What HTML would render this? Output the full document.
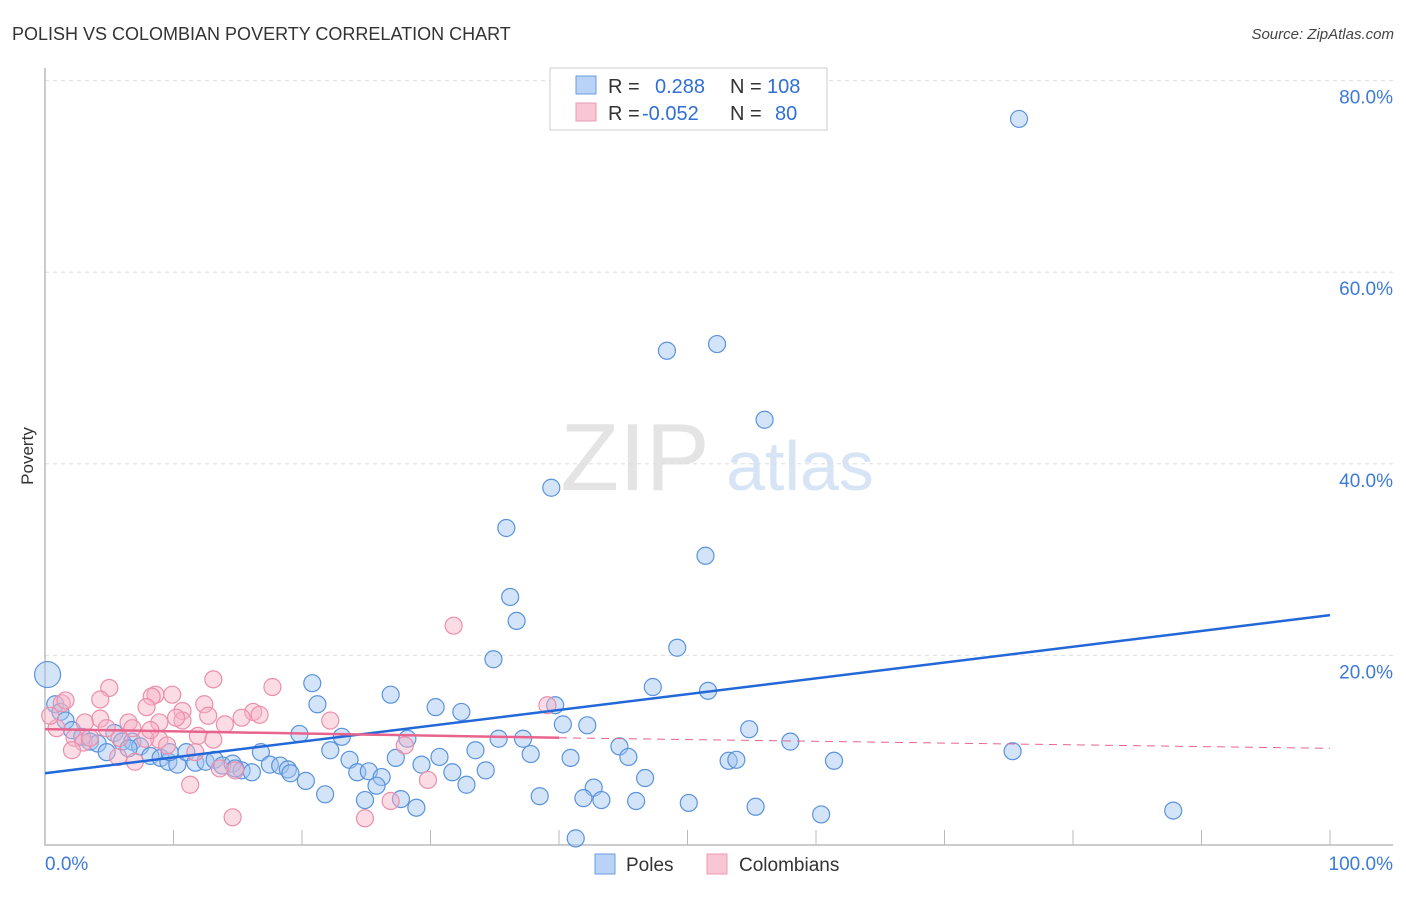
<!DOCTYPE html>
<html><head><meta charset="utf-8"><style>
body{margin:0;background:#fff;font-family:"Liberation Sans",sans-serif}
svg text{font-family:"Liberation Sans",sans-serif}
</style></head><body>
<svg id="chart" width="1406" height="892" xmlns="http://www.w3.org/2000/svg">
<text x="12" y="40" font-size="18" fill="#333">POLISH VS COLOMBIAN POVERTY CORRELATION CHART</text>
<text x="1394" y="39" font-size="15" fill="#444" font-style="italic" text-anchor="end">Source: ZipAtlas.com</text>
<text transform="translate(33,456) rotate(-90)" font-size="17" fill="#333" text-anchor="middle">Poverty</text>
<g><text x="635" y="490" font-size="96" fill="#e4e4e4" font-family="Liberation Serif" text-anchor="middle">ZIP</text><text x="800" y="490" font-size="70" fill="#d6e4f5" text-anchor="middle">atlas</text></g>
<g id="grid"></g>
<g id="axes"></g>
<g id="pts"></g>
<g id="lines"></g>
<g>
<rect x="550" y="68" width="277" height="62" fill="#fff" stroke="#ccc"/>
<rect x="576" y="76" width="20" height="18" fill="#b8d3f5" stroke="#6b9de0"/>
<rect x="576" y="103" width="20" height="18" fill="#f8c6d4" stroke="#ec9ab2"/>
<text x="608" y="93" font-size="20" fill="#333">R =</text><text x="655" y="93" font-size="20" fill="#2f6fd6">0.288</text>
<text x="730" y="93" font-size="20" fill="#333">N =</text><text x="767" y="93" font-size="20" fill="#2f6fd6">108</text>
<text x="608" y="120" font-size="20" fill="#333">R =</text><text x="642" y="120" font-size="20" fill="#2f6fd6">-0.052</text>
<text x="730" y="120" font-size="20" fill="#333">N =</text><text x="775" y="120" font-size="20" fill="#2f6fd6">80</text>
</g>
<g>
<rect x="595" y="854" width="20" height="20" fill="#b8d3f5" stroke="#6b9de0"/><text x="626" y="871" font-size="19" fill="#333">Poles</text>
<rect x="707" y="854" width="20" height="20" fill="#f8c6d4" stroke="#ec9ab2"/><text x="739" y="871" font-size="19" fill="#333">Colombians</text>
</g>
</svg>
<script>
const yTicks=[20,40,60,80];
const yTickLabels=["20.0%","40.0%","60.0%","80.0%"];
const xTickLabels=["0.0%","100.0%"];
const polesX=[75.8,48.4,52.3,56.0,39.4,35.9,51.4,36.2,36.7,34.9,49.2,20.8,47.3,51.6,26.9,21.2,30.4,32.4,39.7,54.8,40.3,42.2,19.8,23.1,28.2,35.3,37.2,44.7,58.0,22.2,33.5,16.8,30.7,37.8,40.9,45.4,75.3,53.2,53.8,61.4,23.7,27.3,29.3,31.7,34.3,24.3,25.2,26.2,32.8,20.3,46.7,25.8,42.7,21.8,24.9,27.7,38.5,41.9,43.3,46.0,50.1,55.3,28.9,60.4,87.8,41.3,0.2,0.8,1.2,1.6,2.1,2.9,3.5,4.1,4.8,5.4,6.0,6.8,7.4,8.2,9.0,9.6,10.3,11.0,11.7,12.5,13.2,13.8,14.6,15.3,16.1,17.5,18.3,18.9,19.1,9.7,14.8,6.5];
const polesY=[76.0,51.8,52.5,44.6,37.5,33.3,30.4,26.1,23.6,19.6,20.8,17.1,16.7,16.3,15.9,14.9,14.6,14.1,14.8,12.3,12.8,12.7,11.8,11.5,11.3,11.3,11.3,10.5,11.0,10.1,10.1,9.9,9.4,9.7,9.3,9.4,10.0,9.0,9.1,9.0,9.1,9.3,8.6,7.8,8.0,7.8,7.9,7.3,6.5,6.9,7.2,6.4,6.2,5.5,4.9,5.0,5.3,5.1,4.9,4.8,4.6,4.2,4.1,3.4,3.8,0.9,18.0,14.9,14.1,13.2,12.2,11.5,11.0,10.8,9.9,11.9,11.0,11.0,10.5,9.5,9.3,8.9,8.6,9.9,8.8,8.9,9.1,8.5,8.7,8.0,7.8,8.6,8.5,8.1,7.7,9.9,8.2,10.3];
const colX=[31.8,13.1,17.7,5.0,9.9,4.3,8.6,8.3,12.4,7.9,10.7,16.2,39.1,15.3,12.7,10.7,10.2,4.3,22.2,14.0,6.5,8.9,6.8,11.9,8.9,0.9,1.3,0.4,2.3,3.0,3.5,5.8,7.8,9.5,5.7,2.1,11.7,7.0,14.8,13.6,28.0,29.8,11.3,26.9,24.9,14.6,1.6,4.8,16.7,13.1,3.1,8.2];
const colY=[23.1,17.5,16.7,16.6,15.9,15.4,15.9,15.7,14.9,14.6,14.2,14.1,14.8,13.5,13.7,13.2,13.5,13.4,13.2,12.8,13.0,13.0,12.4,11.6,11.2,12.4,15.0,13.7,11.4,10.9,11.4,11.4,11.3,10.6,9.4,10.1,9.9,8.9,8.0,8.2,10.6,7.0,6.5,4.8,3.0,3.1,15.3,12.4,13.8,11.2,13.0,12.2];
const polesTrend=[7.7,24.2];
const colTrend=[12.3,11.4,10.3];
const X=v=>45+v*12.85, Y=v=>847-v*9.58;
const NS="http://www.w3.org/2000/svg";
function mk(p,t,a){const e=document.createElementNS(NS,t);for(const k in a)e.setAttribute(k,a[k]);document.getElementById(p).appendChild(e);return e;}
yTicks.forEach((t,i)=>{
 const g=mk('grid','line',{x1:45,x2:1393,y1:Y(t),y2:Y(t),stroke:'#ddd','stroke-dasharray':'4,4'});
 
 
 const l=mk('grid','text',{x:1393,y:Y(t)+23,'font-size':19,fill:'#3d7ad8','text-anchor':'end'});
 l.textContent=yTickLabels[i];
 
 
});
const ax=mk('axes','path',{d:'M45,68 V845 H1393',stroke:'#bbb',fill:'none','stroke-width':1.5});


for(let k=1;k<=10;k++){const t=mk('axes','line',{x1:X(k*10),x2:X(k*10),y1:830,y2:845,stroke:'#bbb'});
 
 }
[[0,'start',45],[100,'end',1393]].forEach((d,i)=>{const t=mk('axes','text',{x:d[2],y:870,'font-size':19,fill:'#3d7ad8','text-anchor':d[1]});t.textContent=xTickLabels[i];
 
 });
polesX.forEach((x,i)=>{const c=mk('pts','circle',{cx:X(x),cy:Y(polesY[i]),r:i==66?13:8.5,fill:'rgba(160,196,240,0.45)',stroke:'#5a93dd','stroke-width':1.2});
 
 });
colX.forEach((x,i)=>{const c=mk('pts','circle',{cx:X(x),cy:Y(colY[i]),r:8.5,fill:'rgba(246,178,198,0.45)',stroke:'#eb8fab','stroke-width':1.2});
 
 });
const bl=mk('lines','line',{x1:X(0),y1:Y(polesTrend[0]),x2:X(100),y2:Y(polesTrend[1]),stroke:'#2268d8','stroke-width':2.5});


const pl=mk('lines','line',{x1:X(0),y1:Y(colTrend[0]),x2:X(40),y2:Y(colTrend[1]),stroke:'#e8648c','stroke-width':2.5});


const pd=mk('lines','line',{x1:X(40),y1:Y(colTrend[1]),x2:X(100),y2:Y(colTrend[2]),stroke:'#e8648c','stroke-width':1,'stroke-dasharray':'8,6'});


</script>
</body></html>
